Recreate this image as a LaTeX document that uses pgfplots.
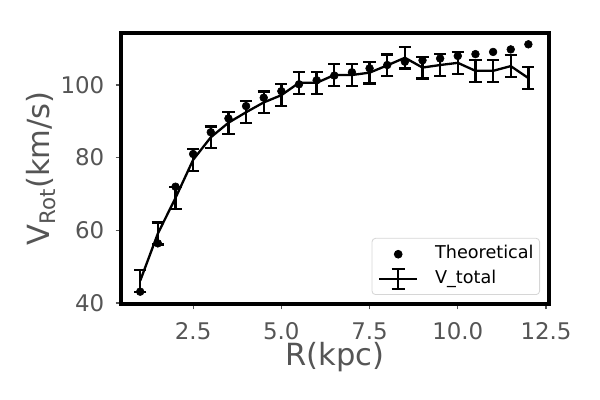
\documentclass[border=0pt]{standalone}
\usepackage{fontspec}
\setmainfont{DejaVu Sans}
\usepackage{pgfplots}
\pgfplotsset{compat=1.18}
\definecolor{txtgray}{RGB}{85,85,85}
\definecolor{leggray}{RGB}{214,214,214}
\begin{document}
\begin{tikzpicture}
\useasboundingbox (-87.1pt,-69.1pt) rectangle (344.9pt,218.9pt);
\begin{axis}[
  scale only axis,
  width=308.2pt, height=195.1pt,
  xmin=0.455, xmax=12.585, ymin=39.7, ymax=114.3,
  axis line style={line width=2.3pt, black},
  tick pos=left, tick align=outside,
  major tick length=3.9pt,
  every tick/.style={line width=0.9pt, txtgray},
  xtick={2.5,5,7.5,10,12.5},
  ytick={40,60,80,100},
  /pgf/number format/assume math mode=true,
  xticklabel style={/pgf/number format/.cd, fixed, fixed zerofill, precision=1, /tikz/.cd,
    font=\fontsize{16.5}{20}\selectfont, text=txtgray, anchor=base, inner sep=0pt, yshift=-21.6pt},
  yticklabel style={font=\fontsize{16.5}{20}\selectfont, text=txtgray, anchor=east, inner sep=0pt, xshift=-7.9pt},
  xlabel={R(kpc)},
  ylabel={V\textsubscript{Rot}(km/s)},
  every axis x label/.style={at={(axis description cs:0.5,-0.228)}, anchor=base, inner sep=0pt, font=\fontsize{22}{26}\selectfont, text=txtgray},
  every axis y label/.style={at={(axis description cs:-0.186,0.5)}, anchor=center, inner sep=0pt, rotate=90, font=\fontsize{22}{26}\selectfont, text=txtgray},
  legend style={at={(rel axis cs:1,0)}, anchor=south east, xshift=-6.5pt, yshift=6.5pt,
    draw=leggray, line width=0.6pt, rounded corners=2.5pt, fill=white,
    inner xsep=4.3pt, inner ysep=5.5pt,
    font=\fontsize{12.7}{15}\selectfont,
    nodes={inner sep=0pt, text height=9.3pt, text depth=2.6pt},
    row sep=5.7pt,
    /tikz/every odd column/.append style={column sep=12pt}},
  legend cell align=left,
]
\addplot[only marks, mark=*, mark size=2.8pt, black,
  legend image code/.code={\fill[black, overlay] (13.7pt,0pt) circle (2.8pt); \path (0pt,0pt) (27.4pt,0pt);}]
coordinates {
(1,43.1) (1.5,56.4) (2,72.0) (2.5,81.0) (3,87.0) (3.5,90.8) (4,94.2) (4.5,96.5)
(5,98.3) (5.5,100.2) (6,101.3) (6.5,102.6) (7,103.5) (7.5,104.6) (8,105.5) (8.5,106.4)
(9,106.8) (9.5,107.3) (10,108.0) (10.5,108.5) (11,109.1) (11.5,109.8) (12,111.2)
};
\addlegendentry{Theoretical}
\addplot[black, line width=1.67pt, no marks,
  legend image code/.code={
    \draw[black, line width=1.67pt] (0pt,0pt) -- (27.4pt,0pt);
    \draw[black, line width=1.67pt, overlay] (13.7pt,-7.2pt) -- (13.7pt,7.2pt);
    \draw[black, line width=1.67pt, overlay] (8.9pt,-7.2pt) -- (18.5pt,-7.2pt);
    \draw[black, line width=1.67pt, overlay] (8.9pt,7.2pt) -- (18.5pt,7.2pt);},
  error bars/.cd, y dir=both, y explicit,
  error bar style={line width=1.67pt, black},
  error mark options={rotate=90, mark size=4.4pt, line width=1.67pt, black}]
coordinates {
(1,46.1) +- (0,3) (1.5,59.1) +- (0,3) (2,68.9) +- (0,3) (2.5,79.4) +- (0,3)
(3,85.6) +- (0,3) (3.5,89.6) +- (0,3) (4,92.5) +- (0,3) (4.5,95.2) +- (0,3)
(5,97.2) +- (0,3) (5.5,100.6) +- (0,3) (6,100.6) +- (0,3) (6.5,102.75) +- (0,3)
(7,102.75) +- (0,3) (7.5,103.4) +- (0,3) (8,105.4) +- (0,3) (8.5,107.5) +- (0,3)
(9,104.8) +- (0,3) (9.5,105.5) +- (0,3) (10,106.1) +- (0,3) (10.5,103.9) +- (0,3)
(11,103.9) +- (0,3) (11.5,105.2) +- (0,3) (12,101.9) +- (0,3)
};
\addlegendentry{V\_total}
\end{axis}
\end{tikzpicture}
\end{document}
